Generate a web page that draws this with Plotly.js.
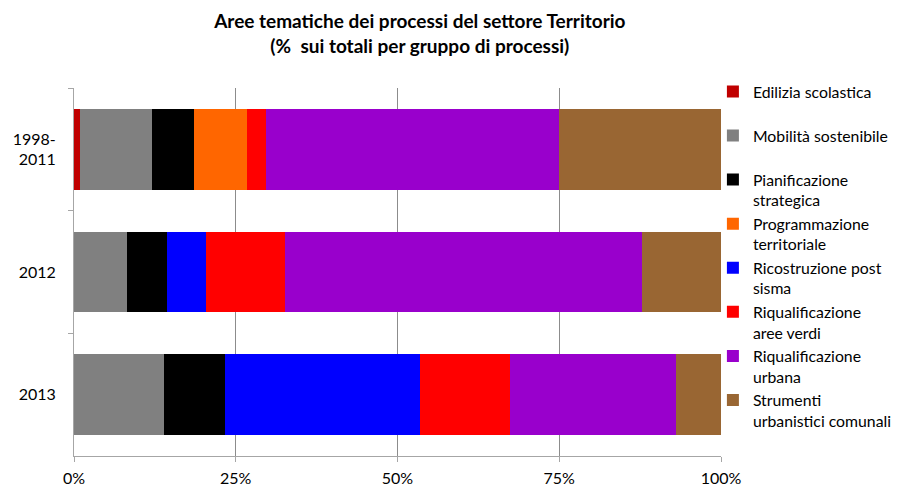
<!DOCTYPE html>
<html>
<head>
<meta charset="utf-8">
<script src="https://cdn.plot.ly/plotly-3.0.1.min.js"></script>
<style>html,body{margin:0;padding:0;background:#fff;}#chart{width:899px;height:488px;}</style>
</head>
<body>
<div id="chart"></div>
<script>
var periods = ['1998-<br>2011', '2012', '2013'];
var seriesNames = [
  'Edilizia scolastica<br> ',
  'Mobilità sostenibile<br> ',
  'Pianificazione<br>strategica',
  'Programmazione<br>territoriale',
  'Ricostruzione post<br>sisma',
  'Riqualificazione<br>aree verdi',
  'Riqualificazione<br>urbana',
  'Strumenti<br>urbanistici comunali'
];
var edilizia       = [1.0, 0, 0];
var mobilita       = [11.1, 8.2, 14.0];
var pianificazione = [6.4, 6.1, 9.3];
var programmazione = [8.3, 0, 0];
var ricostruzione  = [0, 6.1, 30.2];
var areeVerdi      = [2.8, 12.2, 14.0];
var urbana         = [45.3, 55.2, 25.6];
var strumenti      = [25.1, 12.2, 7.0];
var xTickVals = [0, 25, 50, 75, 100];

var colors = ['#C00000', '#808080', '#000000', '#FF6600', '#0000FF', '#FF0000', '#9900CC', '#996633'];
var seriesValues = [edilizia, mobilita, pianificazione, programmazione, ricostruzione, areeVerdi, urbana, strumenti];

var FONT = 'Lato, "Open Sans", sans-serif';
var traces = seriesValues.map(function (vals, i) {
  return {
    type: 'bar',
    orientation: 'h',
    name: seriesNames[i],
    x: vals,
    y: periods,
    marker: {color: colors[i], line: {width: 0}},
    hoverinfo: 'name+x'
  };
});

var layout = {
  width: 899,
  height: 488,
  barmode: 'stack',
  barnorm: 'percent',
  bargap: 0.34,
  paper_bgcolor: '#ffffff',
  plot_bgcolor: '#ffffff',
  font: {family: FONT, size: 16, color: '#000'},
  margin: {l: 74, r: 178, t: 88, b: 32, autoexpand: false},
  title: {
    text: '<b>Aree tematiche dei processi del settore Territorio<br>(%  sui totali per gruppo di processi)</b>',
    font: {family: FONT, size: 19, color: '#000'},
    x: 0.467, xref: 'container', xanchor: 'center',
    y: 0.942, yref: 'container', yanchor: 'top'
  },
  xaxis: {
    range: [0, 100],
    tickvals: xTickVals,
    ticktext: xTickVals.map(function (v) { return v + '%'; }),
    showgrid: true,
    gridcolor: '#8c8c8c',
    gridwidth: 1,
    zeroline: false,
    showline: true,
    linecolor: '#a6a6a6',
    ticks: 'outside',
    ticklen: 5,
    tickcolor: '#a6a6a6',
    tickfont: {family: FONT, size: 16},
    ticklabelstandoff: 3,
    fixedrange: true
  },
  yaxis: {
    autorange: 'reversed',
    type: 'category',
    showgrid: false,
    zeroline: false,
    showline: true,
    linecolor: '#a6a6a6',
    ticks: 'outside',
    tickson: 'boundaries',
    ticklen: 5,
    tickcolor: '#a6a6a6',
    tickfont: {family: FONT, size: 16},
    ticklabelstandoff: 14,
    fixedrange: true
  },
  legend: {
    xref: 'container', yref: 'container',
    x: 0.793, xanchor: 'left',
    y: 0.847, yanchor: 'top',
    traceorder: 'normal',
    valign: 'top',
    maxheight: 420,
    font: {family: FONT, size: 15.8, color: '#000'},
    itemwidth: 30,
    bgcolor: 'rgba(0,0,0,0)'
  },
  showlegend: true
};

Plotly.newPlot('chart', traces, layout, {displayModeBar: false, staticPlot: true});
</script>
</body>
</html>
